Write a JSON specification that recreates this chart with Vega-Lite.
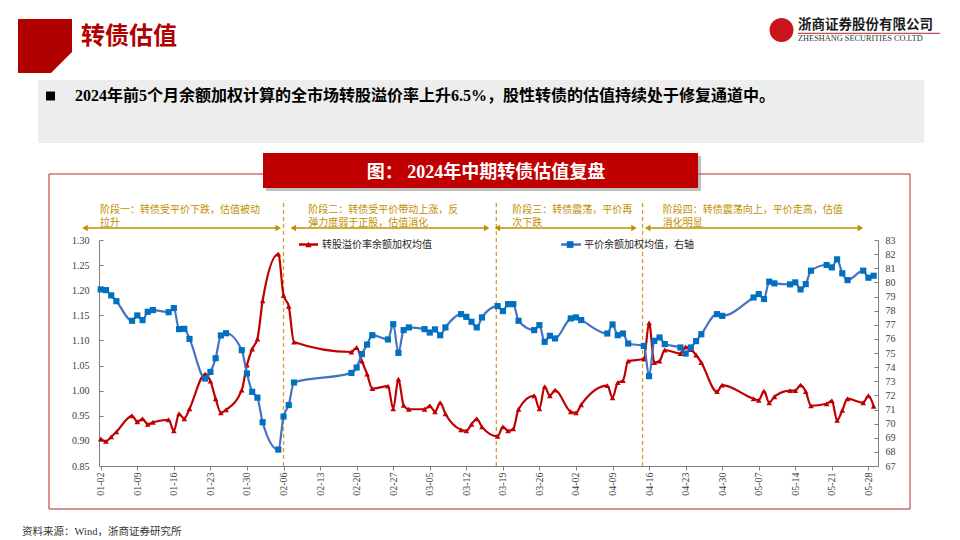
{
  "$schema": "https://vega.github.io/schema/vega-lite/v6.json",
  "width": 779,
  "height": 226,
  "autosize": {"type": "none"},
  "padding": {"left": 99, "top": 240, "right": 82, "bottom": 74},
  "background": "#FFFFFF",
  "config": {"view": {"stroke": null}, "font": "Liberation Serif", "axis": {"grid": false, "labelOverlap": false}},
  "datasets": {
    "one": [{}],
    "series": [
      {"date": "2024/01/02", "premium": 0.904, "parity": 79.50},
      {"date": "2024/01/03", "premium": 0.899, "parity": 79.45},
      {"date": "2024/01/04", "premium": 0.908, "parity": 79.08},
      {"date": "2024/01/05", "premium": 0.918, "parity": 78.67},
      {"date": "2024/01/08", "premium": 0.950, "parity": 77.28},
      {"date": "2024/01/09", "premium": 0.938, "parity": 77.66},
      {"date": "2024/01/10", "premium": 0.944, "parity": 77.33},
      {"date": "2024/01/11", "premium": 0.933, "parity": 77.92},
      {"date": "2024/01/12", "premium": 0.937, "parity": 78.04},
      {"date": "2024/01/15", "premium": 0.942, "parity": 77.89},
      {"date": "2024/01/16", "premium": 0.920, "parity": 78.18},
      {"date": "2024/01/17", "premium": 0.954, "parity": 76.69},
      {"date": "2024/01/18", "premium": 0.944, "parity": 76.71},
      {"date": "2024/01/19", "premium": 0.964, "parity": 76.00},
      {"date": "2024/01/22", "premium": 1.033, "parity": 73.19},
      {"date": "2024/01/23", "premium": 1.019, "parity": 73.66},
      {"date": "2024/01/24", "premium": 0.984, "parity": 74.63},
      {"date": "2024/01/25", "premium": 0.956, "parity": 76.24},
      {"date": "2024/01/26", "premium": 0.962, "parity": 76.40},
      {"date": "2024/01/29", "premium": 1.001, "parity": 75.20},
      {"date": "2024/01/30", "premium": 1.051, "parity": 73.55},
      {"date": "2024/01/31", "premium": 1.083, "parity": 72.25},
      {"date": "2024/02/01", "premium": 1.103, "parity": 71.84},
      {"date": "2024/02/02", "premium": 1.179, "parity": 70.10},
      {"date": "2024/02/05", "premium": 1.272, "parity": 68.16},
      {"date": "2024/02/06", "premium": 1.190, "parity": 70.50},
      {"date": "2024/02/07", "premium": 1.168, "parity": 71.32},
      {"date": "2024/02/08", "premium": 1.097, "parity": 72.91},
      {"date": "2024/02/19", "premium": 1.077, "parity": 73.59},
      {"date": "2024/02/20", "premium": 1.086, "parity": 73.97},
      {"date": "2024/02/21", "premium": 1.059, "parity": 74.92},
      {"date": "2024/02/22", "premium": 1.033, "parity": 75.60},
      {"date": "2024/02/23", "premium": 1.004, "parity": 76.26},
      {"date": "2024/02/26", "premium": 1.009, "parity": 75.96},
      {"date": "2024/02/27", "premium": 0.964, "parity": 77.04},
      {"date": "2024/02/28", "premium": 1.023, "parity": 75.01},
      {"date": "2024/02/29", "premium": 0.971, "parity": 76.62},
      {"date": "2024/03/01", "premium": 0.963, "parity": 76.81},
      {"date": "2024/03/04", "premium": 0.963, "parity": 76.69},
      {"date": "2024/03/05", "premium": 0.970, "parity": 76.45},
      {"date": "2024/03/06", "premium": 0.958, "parity": 76.67},
      {"date": "2024/03/07", "premium": 0.976, "parity": 76.26},
      {"date": "2024/03/08", "premium": 0.954, "parity": 76.81},
      {"date": "2024/03/11", "premium": 0.922, "parity": 77.75},
      {"date": "2024/03/12", "premium": 0.920, "parity": 77.56},
      {"date": "2024/03/13", "premium": 0.933, "parity": 77.21},
      {"date": "2024/03/14", "premium": 0.944, "parity": 76.81},
      {"date": "2024/03/15", "premium": 0.928, "parity": 77.52},
      {"date": "2024/03/18", "premium": 0.909, "parity": 78.32},
      {"date": "2024/03/19", "premium": 0.928, "parity": 77.97},
      {"date": "2024/03/20", "premium": 0.920, "parity": 78.46},
      {"date": "2024/03/21", "premium": 0.924, "parity": 78.46},
      {"date": "2024/03/22", "premium": 0.963, "parity": 77.28},
      {"date": "2024/03/25", "premium": 0.990, "parity": 76.62},
      {"date": "2024/03/26", "premium": 0.964, "parity": 76.97},
      {"date": "2024/03/27", "premium": 1.008, "parity": 75.79},
      {"date": "2024/03/28", "premium": 0.990, "parity": 76.22},
      {"date": "2024/03/29", "premium": 1.001, "parity": 76.03},
      {"date": "2024/04/01", "premium": 0.958, "parity": 77.45},
      {"date": "2024/04/02", "premium": 0.956, "parity": 77.52},
      {"date": "2024/04/03", "premium": 0.972, "parity": 77.33},
      {"date": "2024/04/08", "premium": 1.010, "parity": 76.38},
      {"date": "2024/04/09", "premium": 0.986, "parity": 77.02},
      {"date": "2024/04/10", "premium": 1.016, "parity": 76.26},
      {"date": "2024/04/11", "premium": 1.020, "parity": 76.38},
      {"date": "2024/04/12", "premium": 1.059, "parity": 75.67},
      {"date": "2024/04/15", "premium": 1.063, "parity": 75.50},
      {"date": "2024/04/16", "premium": 1.135, "parity": 73.36},
      {"date": "2024/04/17", "premium": 1.056, "parity": 75.86},
      {"date": "2024/04/18", "premium": 1.059, "parity": 76.10},
      {"date": "2024/04/19", "premium": 1.081, "parity": 75.63},
      {"date": "2024/04/22", "premium": 1.074, "parity": 75.39},
      {"date": "2024/04/23", "premium": 1.087, "parity": 74.96},
      {"date": "2024/04/24", "premium": 1.082, "parity": 75.39},
      {"date": "2024/04/25", "premium": 1.071, "parity": 75.84},
      {"date": "2024/04/26", "premium": 1.056, "parity": 76.33},
      {"date": "2024/04/29", "premium": 0.998, "parity": 77.75},
      {"date": "2024/04/30", "premium": 1.011, "parity": 77.63},
      {"date": "2024/05/06", "premium": 0.984, "parity": 78.93},
      {"date": "2024/05/07", "premium": 0.981, "parity": 79.17},
      {"date": "2024/05/08", "premium": 0.999, "parity": 78.82},
      {"date": "2024/05/09", "premium": 0.976, "parity": 80.05},
      {"date": "2024/05/10", "premium": 0.988, "parity": 79.93},
      {"date": "2024/05/13", "premium": 1.000, "parity": 79.86},
      {"date": "2024/05/14", "premium": 1.000, "parity": 80.00},
      {"date": "2024/05/15", "premium": 1.011, "parity": 79.50},
      {"date": "2024/05/16", "premium": 0.998, "parity": 79.88},
      {"date": "2024/05/17", "premium": 0.970, "parity": 80.83},
      {"date": "2024/05/20", "premium": 0.974, "parity": 81.23},
      {"date": "2024/05/21", "premium": 0.980, "parity": 81.06},
      {"date": "2024/05/22", "premium": 0.941, "parity": 81.63},
      {"date": "2024/05/23", "premium": 0.961, "parity": 80.64},
      {"date": "2024/05/24", "premium": 0.984, "parity": 80.16},
      {"date": "2024/05/27", "premium": 0.976, "parity": 80.83},
      {"date": "2024/05/28", "premium": 0.990, "parity": 80.33},
      {"date": "2024/05/29", "premium": 0.969, "parity": 80.47}
    ],
    "boundaries": [
      {"date": "2024/02/06 00:00"},
      {"date": "2024/03/17 18:00"},
      {"date": "2024/04/14 18:00"}
    ],
    "phases": [
      {"start": "2023/12/29 23:40", "end": "2024/02/05 00:00", "line1": "阶段一：转债受平价下跌，估值被动", "line2": "拉升"},
      {"start": "2024/02/07 20:57", "end": "2024/03/15 21:45", "line1": "阶段二：转债受平价带动上涨，反", "line2": "弹力度弱于正股，估值消化"},
      {"start": "2024/03/17 22:29", "end": "2024/04/13 02:41", "line1": "阶段三：转债震荡，平价再", "line2": "次下跌"},
      {"start": "2024/04/15 17:41", "end": "2024/05/26 11:12", "line1": "阶段四：转债震荡向上，平价走高，估值", "line2": "消化明显"}
    ]
  },
  "layer": [
    {
      "layer": [
        {
          "data": {"name": "one"},
          "mark": {"type": "rect", "color": "#B00000"},
          "encoding": {
            "x": {"datum": {"year": 2023, "month": 12, "date": 17, "hours": 3, "minutes": 44}},
            "x2": {"datum": {"year": 2023, "month": 12, "date": 27, "hours": 11, "minutes": 55}},
            "y": {"datum": 1.740},
            "y2": {"datum": 1.6325}
          }
        },
        {
          "data": {"name": "one"},
          "mark": {"type": "point", "shape": "M 1 -1 L 1 1 L -1 1 Z", "filled": true, "size": 529, "color": "#FFFFFF", "opacity": 1, "strokeWidth": 0},
          "encoding": {
            "x": {"datum": {"year": 2023, "month": 12, "date": 25, "hours": 11, "minutes": 40}},
            "y": {"datum": 1.6534}
          }
        },
        {
          "data": {"name": "one"},
          "mark": {"type": "text", "text": "转债估值", "font": "Noto Sans CJK SC", "fontSize": 24, "fontWeight": "bold", "color": "#B00000", "align": "left", "baseline": "middle"},
          "encoding": {
            "x": {"datum": {"year": 2023, "month": 12, "date": 29, "hours": 5, "minutes": 16}},
            "y": {"datum": 1.7042}
          }
        },
        {
          "data": {"name": "one"},
          "mark": {"type": "point", "shape": "circle", "filled": true, "size": 572, "color": "#C9151E", "opacity": 1},
          "encoding": {
            "x": {"datum": {"year": 2024, "month": 5, "date": 11, "hours": 8, "minutes": 34}},
            "y": {"datum": 1.7182}
          }
        },
        {
          "data": {"name": "one"},
          "mark": {"type": "text", "text": "浙商证券股份有限公司", "font": "Noto Sans CJK SC", "fontSize": 13.5, "fontWeight": "bold", "color": "#1A1A1A", "align": "left", "baseline": "middle"},
          "encoding": {
            "x": {"datum": {"year": 2024, "month": 5, "date": 14, "hours": 12, "minutes": 24}},
            "y": {"datum": 1.7281}
          }
        },
        {
          "data": {"name": "one"},
          "mark": {"type": "rule", "color": "#A8282D", "strokeWidth": 1},
          "encoding": {
            "x": {"datum": {"year": 2024, "month": 5, "date": 14, "hours": 12, "minutes": 24}},
            "x2": {"datum": {"year": 2024, "month": 6, "date": 10, "hours": 17, "minutes": 55}},
            "y": {"datum": 1.7116}
          }
        },
        {
          "data": {"name": "one"},
          "mark": {"type": "text", "text": "ZHESHANG SECURITIES CO.LTD", "font": "Liberation Serif", "fontSize": 8.3, "color": "#333333", "align": "left", "baseline": "middle"},
          "encoding": {
            "x": {"datum": {"year": 2024, "month": 5, "date": 14, "hours": 12, "minutes": 24}},
            "y": {"datum": 1.7002}
          }
        },
        {
          "data": {"name": "one"},
          "mark": {"type": "rect", "color": "#EDEDED"},
          "encoding": {
            "x": {"datum": {"year": 2023, "month": 12, "date": 20, "hours": 23, "minutes": 40}},
            "x2": {"datum": {"year": 2024, "month": 6, "date": 7, "hours": 16, "minutes": 43}},
            "y": {"datum": 1.6186},
            "y2": {"datum": 1.4931}
          }
        },
        {
          "data": {"name": "one"},
          "mark": {"type": "point", "shape": "square", "filled": true, "size": 80, "color": "#000000", "opacity": 1},
          "encoding": {
            "x": {"datum": {"year": 2023, "month": 12, "date": 23, "hours": 9, "minutes": 7}},
            "y": {"datum": 1.5867}
          }
        },
        {
          "data": {"name": "one"},
          "mark": {"type": "text", "text": "2024年前5个月余额加权计算的全市场转股溢价率上升6.5%，股性转债的估值持续处于修复通道中。", "font": "Liberation Serif, Noto Sans CJK SC", "fontSize": 16, "fontWeight": "bold", "color": "#000000", "align": "left", "baseline": "middle"},
          "encoding": {
            "x": {"datum": {"year": 2023, "month": 12, "date": 28, "hours": 1, "minutes": 42}},
            "y": {"datum": 1.5867}
          }
        },
        {
          "data": {"name": "one"},
          "mark": {"type": "rect", "filled": false, "stroke": "#B8282E", "strokeWidth": 1},
          "encoding": {
            "x": {"datum": {"year": 2023, "month": 12, "date": 23, "hours": 2, "minutes": 13}},
            "x2": {"datum": {"year": 2024, "month": 6, "date": 4, "hours": 23, "minutes": 12}},
            "y": {"datum": 1.4314},
            "y2": {"datum": 0.7644}
          }
        },
        {
          "data": {"name": "one"},
          "mark": {"type": "rect", "color": "#7F7F7F", "opacity": 0.5},
          "encoding": {
            "x": {"datum": {"year": 2024, "month": 2, "date": 2, "hours": 15, "minutes": 28}},
            "x2": {"datum": {"year": 2024, "month": 4, "date": 25, "hours": 22, "minutes": 43}},
            "y": {"datum": 1.4673},
            "y2": {"datum": 1.3976}
          }
        },
        {
          "data": {"name": "one"},
          "mark": {"type": "rect", "color": "#C00000"},
          "encoding": {
            "x": {"datum": {"year": 2024, "month": 2, "date": 2, "hours": 1, "minutes": 42}},
            "x2": {"datum": {"year": 2024, "month": 4, "date": 25, "hours": 8, "minutes": 48}},
            "y": {"datum": 1.4732},
            "y2": {"datum": 1.4035}
          }
        },
        {
          "data": {"name": "one"},
          "mark": {"type": "text", "text": "图： 2024年中期转债估值复盘", "font": "Liberation Serif, Noto Sans CJK SC", "fontSize": 18, "fontWeight": "bold", "color": "#FFFFFF", "align": "center", "baseline": "middle"},
          "encoding": {
            "x": {"datum": {"year": 2024, "month": 3, "date": 15, "hours": 18, "minutes": 31}},
            "y": {"datum": 1.433}
          }
        },
        {
          "data": {"name": "one"},
          "mark": {"type": "text", "text": "资料来源：Wind，浙商证券研究所", "font": "Liberation Serif, Noto Sans CJK SC", "fontSize": 10.5, "color": "#333333", "align": "left", "baseline": "middle"},
          "encoding": {
            "x": {"datum": {"year": 2023, "month": 12, "date": 17, "hours": 22, "minutes": 8}},
            "y": {"datum": 0.7186}
          }
        },
        {
          "data": {"name": "boundaries"},
          "mark": {"type": "rule", "color": "#D4A02A", "strokeWidth": 1.3, "strokeDash": [4, 3]},
          "encoding": {
            "x": {"field": "date", "type": "temporal"},
            "y": {"datum": 0.85},
            "y2": {"datum": 1.3796}
          }
        },
        {
          "data": {"name": "phases"},
          "mark": {"type": "rule", "color": "#BF9000", "strokeWidth": 1.5},
          "encoding": {
            "x": {"field": "start", "type": "temporal"},
            "x2": {"field": "end"},
            "y": {"datum": 1.3239}
          }
        },
        {
          "data": {"name": "phases"},
          "mark": {"type": "point", "shape": "triangle-left", "filled": true, "size": 40, "color": "#BF9000", "opacity": 1},
          "encoding": {
            "x": {"field": "start", "type": "temporal"},
            "y": {"datum": 1.3239}
          }
        },
        {
          "data": {"name": "phases"},
          "mark": {"type": "point", "shape": "triangle-right", "filled": true, "size": 40, "color": "#BF9000", "opacity": 1},
          "encoding": {
            "x": {"field": "end", "type": "temporal"},
            "y": {"datum": 1.3239}
          }
        },
        {
          "data": {"name": "phases"},
          "mark": {"type": "text", "font": "Noto Sans CJK SC", "fontSize": 10, "color": "#BF9000", "align": "left", "baseline": "middle", "dx": 15},
          "encoding": {
            "x": {"field": "start", "type": "temporal"},
            "y": {"datum": 1.3590},
            "text": {"field": "line1"}
          }
        },
        {
          "data": {"name": "phases"},
          "mark": {"type": "text", "font": "Noto Sans CJK SC", "fontSize": 10, "color": "#BF9000", "align": "left", "baseline": "middle", "dx": 15},
          "encoding": {
            "x": {"field": "start", "type": "temporal"},
            "y": {"datum": 1.3329},
            "text": {"field": "line2"}
          }
        },
        {
          "data": {"name": "series"},
          "mark": {"type": "line", "color": "#C00000", "strokeWidth": 2.2, "interpolate": "monotone"},
          "encoding": {
            "x": {
              "field": "date",
              "type": "temporal",
              "scale": {"domain": [{"year": 2024, "month": 1, "date": 1, "hours": 16}, {"year": 2024, "month": 5, "date": 29, "hours": 20}]},
              "axis": {
                "title": null,
                "values": [
                  {"year": 2024, "month": 1, "date": 2}, {"year": 2024, "month": 1, "date": 9}, {"year": 2024, "month": 1, "date": 16},
                  {"year": 2024, "month": 1, "date": 23}, {"year": 2024, "month": 1, "date": 30}, {"year": 2024, "month": 2, "date": 6},
                  {"year": 2024, "month": 2, "date": 13}, {"year": 2024, "month": 2, "date": 20}, {"year": 2024, "month": 2, "date": 27},
                  {"year": 2024, "month": 3, "date": 5}, {"year": 2024, "month": 3, "date": 12}, {"year": 2024, "month": 3, "date": 19},
                  {"year": 2024, "month": 3, "date": 26}, {"year": 2024, "month": 4, "date": 2}, {"year": 2024, "month": 4, "date": 9},
                  {"year": 2024, "month": 4, "date": 16}, {"year": 2024, "month": 4, "date": 23}, {"year": 2024, "month": 4, "date": 30},
                  {"year": 2024, "month": 5, "date": 7}, {"year": 2024, "month": 5, "date": 14}, {"year": 2024, "month": 5, "date": 21},
                  {"year": 2024, "month": 5, "date": 28}
                ],
                "tickCount": 200,
                "format": "%m-%d",
                "labelAngle": 270,
                "labelOverlap": false,
                "labelFont": "Liberation Serif",
                "labelFontSize": 10,
                "labelColor": "#404040",
                "labelPadding": 2,
                "tickSize": 4,
                "tickColor": "#808080",
                "domainColor": "#808080",
                "grid": false
              }
            },
            "y": {
              "field": "premium",
              "type": "quantitative",
              "scale": {"domain": [0.85, 1.3], "nice": false, "zero": false},
              "axis": {
                "title": null,
                "values": [0.85, 0.9, 0.95, 1.0, 1.05, 1.1, 1.15, 1.2, 1.25, 1.3],
                "tickCount": 200,
                "format": ".2f",
                "labelOverlap": false,
                "labelFont": "Liberation Serif",
                "labelFontSize": 10,
                "labelColor": "#404040",
                "tickSize": -4,
                "labelPadding": 14,
                "tickColor": "#808080",
                "domainColor": "#808080",
                "grid": false
              }
            }
          }
        },
        {
          "data": {"name": "series"},
          "mark": {"type": "point", "shape": "triangle-up", "filled": true, "size": 32, "color": "#C00000", "opacity": 1},
          "encoding": {
            "x": {"field": "date", "type": "temporal"},
            "y": {"field": "premium", "type": "quantitative"}
          }
        },
        {
          "data": {"name": "one"},
          "mark": {"type": "rule", "color": "#C00000", "strokeWidth": 2.5},
          "encoding": {
            "x": {"datum": {"year": 2024, "month": 2, "date": 8, "hours": 23, "minutes": 8}},
            "x2": {"datum": {"year": 2024, "month": 2, "date": 12, "hours": 14, "minutes": 28}},
            "y": {"datum": 1.291}
          }
        },
        {
          "data": {"name": "one"},
          "mark": {"type": "point", "shape": "triangle-up", "filled": true, "size": 40, "color": "#C00000", "opacity": 1},
          "encoding": {
            "x": {"datum": {"year": 2024, "month": 2, "date": 10, "hours": 18, "minutes": 48}},
            "y": {"datum": 1.291}
          }
        },
        {
          "data": {"name": "one"},
          "mark": {"type": "text", "text": "转股溢价率余额加权均值", "font": "Noto Sans CJK SC", "fontSize": 10, "color": "#262626", "align": "left", "baseline": "middle"},
          "encoding": {
            "x": {"datum": {"year": 2024, "month": 2, "date": 13, "hours": 8, "minutes": 51}},
            "y": {"datum": 1.291}
          }
        },
        {
          "data": {"name": "one"},
          "mark": {"type": "rule", "color": "#4472C4", "strokeWidth": 2.5},
          "encoding": {
            "x": {"datum": {"year": 2024, "month": 3, "date": 30, "hours": 3, "minutes": 11}},
            "x2": {"datum": {"year": 2024, "month": 4, "date": 2, "hours": 23, "minutes": 6}},
            "y": {"datum": 1.291}
          }
        },
        {
          "data": {"name": "one"},
          "mark": {"type": "point", "shape": "square", "filled": true, "size": 45, "color": "#0070C0", "opacity": 1},
          "encoding": {
            "x": {"datum": {"year": 2024, "month": 3, "date": 31, "hours": 21, "minutes": 9}},
            "y": {"datum": 1.291}
          }
        },
        {
          "data": {"name": "one"},
          "mark": {"type": "text", "text": "平价余额加权均值，右轴", "font": "Noto Sans CJK SC", "fontSize": 10, "color": "#262626", "align": "left", "baseline": "middle"},
          "encoding": {
            "x": {"datum": {"year": 2024, "month": 4, "date": 3, "hours": 12, "minutes": 54}},
            "y": {"datum": 1.291}
          }
        }
      ]
    },
    {
      "layer": [
        {
          "data": {"name": "series"},
          "mark": {"type": "line", "color": "#4472C4", "strokeWidth": 2.2, "interpolate": "monotone"},
          "encoding": {
            "x": {"field": "date", "type": "temporal"},
            "y": {
              "field": "parity",
              "type": "quantitative",
              "scale": {"domain": [67, 83], "nice": false, "zero": false},
              "axis": {
                "orient": "right",
                "title": null,
                "values": [67, 68, 69, 70, 71, 72, 73, 74, 75, 76, 77, 78, 79, 80, 81, 82, 83],
                "tickCount": 200,
                "format": "d",
                "labelOverlap": false,
                "labelFont": "Liberation Serif",
                "labelFontSize": 10,
                "labelColor": "#404040",
                "tickSize": -4,
                "labelPadding": 11,
                "tickColor": "#808080",
                "domainColor": "#808080",
                "grid": false
              }
            }
          }
        },
        {
          "data": {"name": "series"},
          "mark": {"type": "point", "shape": "square", "filled": true, "size": 38, "color": "#0070C0", "opacity": 1},
          "encoding": {
            "x": {"field": "date", "type": "temporal"},
            "y": {"field": "parity", "type": "quantitative"}
          }
        }
      ]
    }
  ],
  "resolve": {"scale": {"y": "independent"}}
}
